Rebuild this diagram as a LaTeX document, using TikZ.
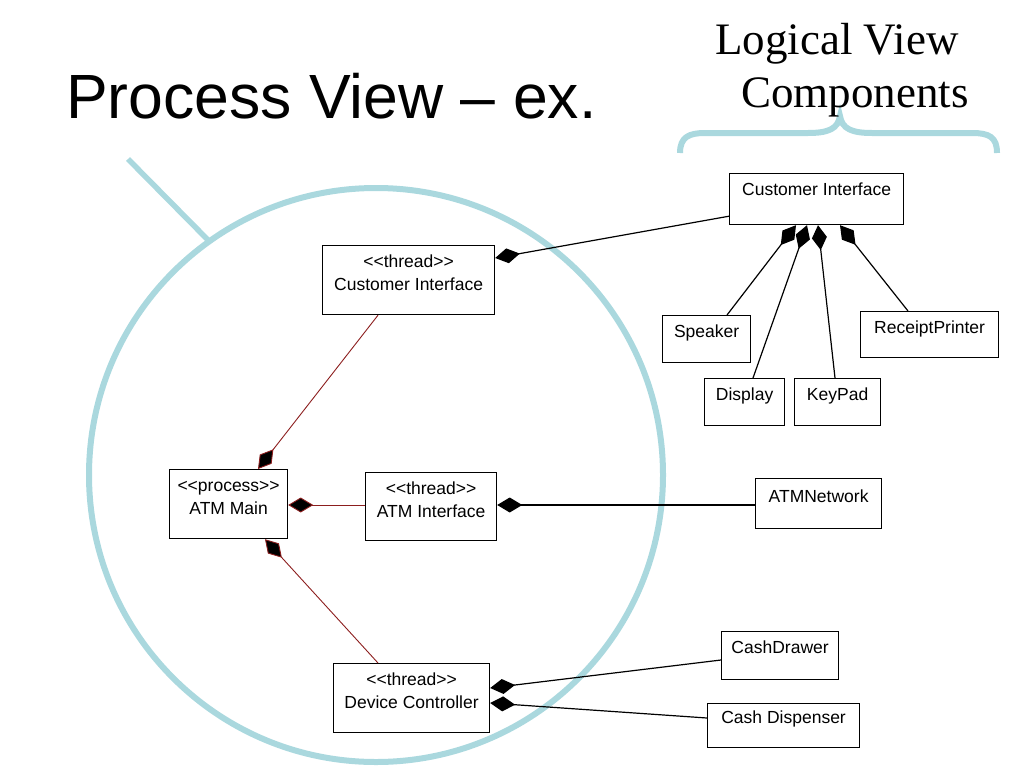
\documentclass[tikz,border=0pt]{standalone}
\usepackage{fontspec}
\usetikzlibrary{arrows.meta,calc}
\newfontfamily\titlefont{Liberation Sans}
\newfontfamily\seriffont{Liberation Serif}
\newfontfamily\boxfont{Liberation Sans}[Ligatures=TeXOff]
\definecolor{umlred}{RGB}{140,30,30}
\definecolor{viewblue}{RGB}{170,216,222}
\newcommand{\bx}[4][22pt]{\parbox[t][#3][t]{#2}{\centering\boxfont\fontsize{17.5}{23}\selectfont\rule{0pt}{#1}#4}}
\begin{document}
\begin{tikzpicture}[x=1pt,y=-1pt,
  umlbox/.style={draw, line width=1.2pt, inner sep=0pt, anchor=north west, fill=white},
  conn/.style={line width=1.2pt, -{Diamond[length=25pt,width=15pt]}},
  rconn/.style={umlred, line width=0.9pt, -{Diamond[length=25pt,width=15pt,fill=black]}},
  viewline/.style={viewblue, line width=6pt}]
\useasboundingbox (0,0) rectangle (1024,768);
% view markers
\draw[viewline] (376,475) circle[radius=287pt];
\draw[viewline, line width=5.5pt] (128,159) -- (208,240);
\draw[viewline] (680,153) .. controls (680,137) and (689,133) .. (705,133) -- (808,133)
  .. controls (828,133) and (838,129) .. (840,116)
  .. controls (842,129) and (852,133) .. (872,133) -- (972,133)
  .. controls (989,133) and (997,137) .. (997,153);
% titles
\node[anchor=base west, inner sep=0pt, font=\titlefont\fontsize{62.5}{62.5}\selectfont] (title) at (66,118) {Process View – ex.};
\node[anchor=base west, inner sep=0pt, font=\seriffont\fontsize{45}{45}\selectfont] (lv1) at (715,55) {Logical View};
\node[anchor=base west, inner sep=0pt, font=\seriffont\fontsize{45}{45}\selectfont] (lv2) at (741,107) {Components};
% process view boxes
\node[umlbox] (tci) at (322,245) {\bx{172pt}{69pt}{<<thread>>\\Customer Interface}};
\node[umlbox] (atm) at (169,469) {\bx{118pt}{69pt}{<<process>>\\ATM Main}};
\node[umlbox] (atmi) at (365,472) {\bx{131pt}{68pt}{<<thread>>\\ATM Interface}};
\node[umlbox] (dc) at (333,663) {\bx{156pt}{69pt}{<<thread>>\\Device Controller}};
% logical view boxes
\node[umlbox] (lci) at (729,173) {\bx{174pt}{51pt}{Customer Interface}};
\node[umlbox] (spk) at (662,315) {\bx{88pt}{47pt}{Speaker}};
\node[umlbox] (disp) at (704,378) {\bx{80pt}{47pt}{Display}};
\node[umlbox] (kp) at (794,378) {\bx{86pt}{47pt}{KeyPad}};
\node[umlbox] (rp) at (860,311) {\bx{138pt}{46pt}{ReceiptPrinter}};
\node[umlbox] (net) at (755,478) {\bx[24pt]{126pt}{50pt}{ATMNetwork}};
\node[umlbox] (cd) at (721,631) {\bx{117pt}{48pt}{CashDrawer}};
\node[umlbox] (cdisp) at (707,703) {\bx[20pt]{152pt}{44pt}{Cash Dispenser}};
% connectors
\draw[conn] ([yshift=9pt]lci.south west) -- ([yshift=-13pt]tci.north east);
\draw[rconn] ([xshift=56pt]tci.south west) -- ([xshift=89pt]atm.north west);
\draw[rconn] ([yshift=-33pt]atmi.north west) -- ([yshift=-36pt]atm.north east);
\draw[rconn] ([xshift=45pt]dc.north west) -- ([xshift=96pt]atm.south west);
\draw[conn] ([yshift=-27pt]net.north west) -- ([yshift=-33pt]atmi.north east);
\draw[conn] ([yshift=-29pt]cd.north west) -- ([yshift=-25pt]dc.north east);
\draw[conn] ([yshift=-15pt]cdisp.north west) -- ([yshift=-40pt]dc.north east);
\draw[conn] ([xshift=65pt]spk.north west) -- ([xshift=67pt]lci.south west);
\draw[conn] ([xshift=49pt]disp.north west) -- ([xshift=78pt]lci.south west);
\draw[conn] ([xshift=41pt]kp.north west) -- ([xshift=89pt]lci.south west);
\draw[conn] ([xshift=48pt]rp.north west) -- ([xshift=111pt]lci.south west);
\end{tikzpicture}
\end{document}
